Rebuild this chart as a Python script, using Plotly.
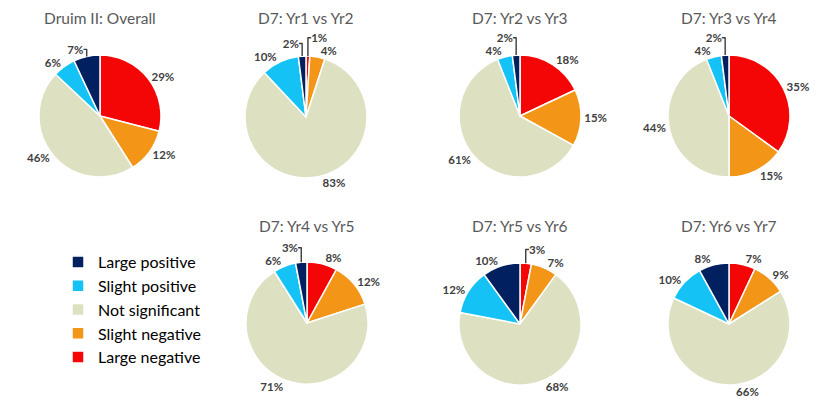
import plotly.graph_objects as go

categories = ["Large negative", "Slight negative", "Not significant", "Slight positive", "Large positive"]
colors = ["#F50606", "#F39517", "#DEE0C2", "#14C2F5", "#002060"]

titles = ["Druim II: Overall", "D7: Yr1 vs Yr2", "D7: Yr2 vs Yr3", "D7: Yr3 vs Yr4",
          "D7: Yr4 vs Yr5", "D7: Yr5 vs Yr6", "D7: Yr6 vs Yr7"]

overall = [29, 12, 46, 6, 7]
yr1_yr2 = [1, 4, 83, 10, 2]
yr2_yr3 = [18, 15, 61, 4, 2]
yr3_yr4 = [35, 15, 44, 4, 2]
yr4_yr5 = [8, 12, 71, 6, 3]
yr5_yr6 = [3, 7, 68, 12, 10]
yr6_yr7 = [7, 9, 66, 10, 8]
series = [overall, yr1_yr2, yr2_yr3, yr3_yr4, yr4_yr5, yr5_yr6, yr6_yr7]

W, H = 830, 410
# pie centres (px) and radius, layout only
centres = [(100, 116), (306, 117), (520, 116), (729, 116), (307, 323), (520, 324), (729, 324)]
R = 61
title_y = [18, 18, 18, 18, 226, 226, 226]

fig = go.Figure()
for i, (vals, (cx, cy)) in enumerate(zip(series, centres)):
    fig.add_trace(go.Pie(
        labels=categories, values=vals, sort=False, direction="clockwise", rotation=0,
        marker=dict(colors=colors, line=dict(color="white", width=1.5)),
        textposition="outside", texttemplate="%{value}%",
        textfont=dict(family="Lato", size=11.5, color="#404040", weight="bold"),
        domain=dict(x=[(cx - R) / W, (cx + R) / W], y=[1 - (cy + R) / H, 1 - (cy - R) / H]),
        showlegend=(i == 0), hoverinfo="label+percent",
    ))
    fig.add_annotation(text=titles[i], x=cx / W, y=1 - title_y[i] / H, xref="paper", yref="paper",
                       showarrow=False, xanchor="center", yanchor="middle", borderpad=0,
                       font=dict(family="Lato", size=15.5, color="#595959"))

fig.update_layout(
    width=W, height=H, margin=dict(l=0, r=0, t=0, b=0),
    paper_bgcolor="white", plot_bgcolor="white",
    legend=dict(x=58 / W, y=1 - 245 / H, xanchor="left", yanchor="top", traceorder="reversed",
                font=dict(family="Lato", size=16, color="#000000"), bgcolor="rgba(0,0,0,0)"),
)
fig.write_html("out.html")
